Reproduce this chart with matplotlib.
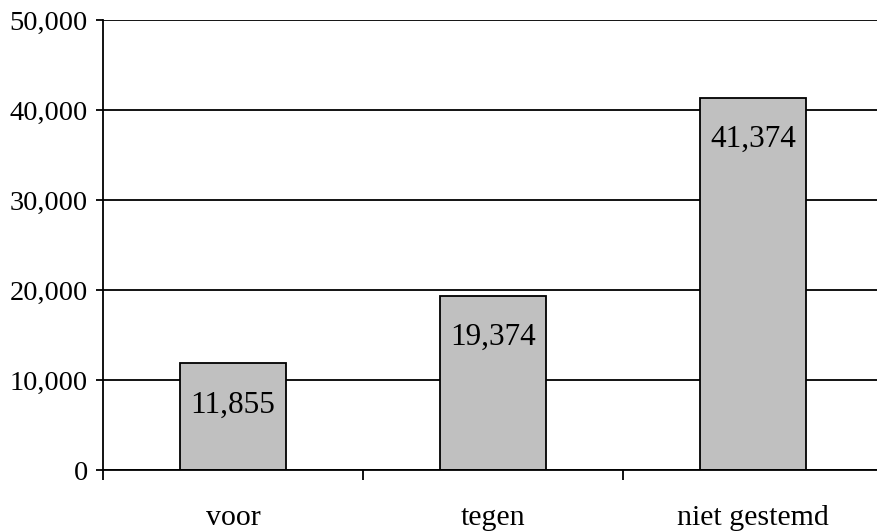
import matplotlib
matplotlib.use("Agg")
import matplotlib.pyplot as plt
from matplotlib.ticker import FuncFormatter, FixedLocator

categories = ["voor", "tegen", "niet gestemd"]
values = [11855, 19374, 41374]
yticks = [0, 10000, 20000, 30000, 40000, 50000]

plt.rcParams['font.family'] = ['Liberation Serif', 'DejaVu Serif']

fig = plt.figure(figsize=(8.77, 5.31), dpi=100)
ax = fig.add_axes([103/877, 61/531, 780/877, 450/531])

x = list(range(len(categories)))
ax.set_axisbelow(True)
bars = ax.bar(x, values, width=0.405, color="#c0c0c0", edgecolor="black", linewidth=1.3, zorder=3)

for xi, v in zip(x, values):
    ax.annotate(f"{v:,}", xy=(xi, v), xytext=(0, -30), textcoords="offset points",
                ha="center", va="center", fontsize=22.5, zorder=4)

ax.set_xlim(-0.5, len(categories) - 0.5)
ax.set_ylim(0, 50000)
ax.set_yticks(yticks)
ax.yaxis.set_major_formatter(FuncFormatter(lambda v, p: f"{int(v):,}"))
ax.yaxis.grid(True, color="black", linewidth=1.3)
ax.tick_params(axis="y", length=5, width=1.3, pad=6, labelsize=20.5, direction="out")

ax.set_xticks(x)
ax.set_xticklabels(categories, fontsize=21.5)
ax.tick_params(axis="x", which="major", length=0, pad=25)
ax.xaxis.set_minor_locator(FixedLocator([i - 0.5 for i in range(len(categories) + 1)]))
ax.tick_params(axis="x", which="minor", length=7, width=1.3, direction="out")

for s in ["top", "right"]:
    ax.spines[s].set_visible(False)
for s in ["left", "bottom"]:
    ax.spines[s].set_linewidth(1.3)
    ax.spines[s].set_zorder(5)

fig.savefig("out.png", dpi=100)
